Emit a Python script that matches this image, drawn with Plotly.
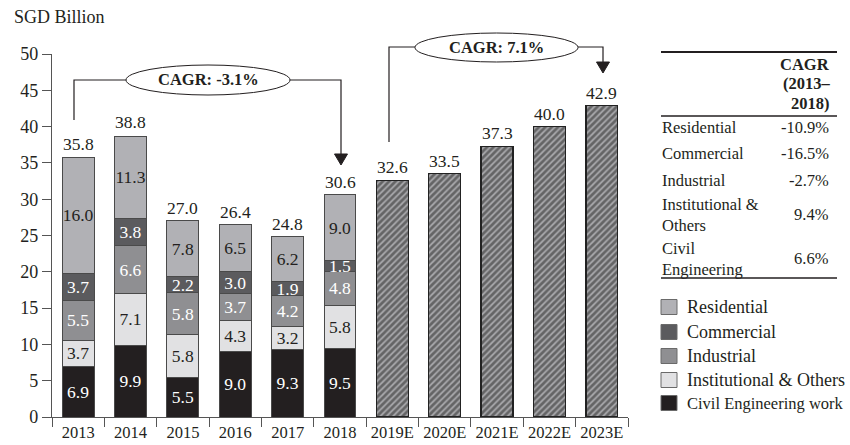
import plotly.graph_objects as go

# ---- data -------------------------------------------------------------
hist_years = ["2013", "2014", "2015", "2016", "2017", "2018"]
fcst_years = ["2019E", "2020E", "2021E", "2022E", "2023E"]

civil = [6.9, 9.9, 5.5, 9.0, 9.3, 9.5]
institutional = [3.7, 7.1, 5.8, 4.3, 3.2, 5.8]
industrial = [5.5, 6.6, 5.8, 3.7, 4.2, 4.8]
commercial = [3.7, 3.8, 2.2, 3.0, 1.9, 1.5]
residential = [16.0, 11.3, 7.8, 6.5, 6.2, 9.0]

hist_totals = [35.8, 38.8, 27.0, 26.4, 24.8, 30.6]
fcst_totals = [32.6, 33.5, 37.3, 40.0, 42.9]

cagr_hist = "CAGR: -3.1%"
cagr_fcst = "CAGR: 7.1%"

table_rows = [
    (["Residential"], "-10.9%"),
    (["Commercial"], "-16.5%"),
    (["Industrial"], "-2.7%"),
    (["Institutional &", "Others"], "9.4%"),
    (["Civil", "Engineering"], "6.6%"),
]

# ---- styling ----------------------------------------------------------
FONT = "Liberation Serif"
INK = "#231f20"
AXIS = "#555555"
EDGE = "#4a4a4a"

segments = [
    ("Civil Engineering work", civil, "#231f20", "white"),
    ("Institutional & Others", institutional, "#e1e1e3", INK),
    ("Industrial", industrial, "#8f8f92", "white"),
    ("Commercial", commercial, "#5b5b5e", "white"),
    ("Residential", residential, "#b1b1b5", INK),
]

all_years = hist_years + fcst_years
all_totals = hist_totals + fcst_totals

# plot-area geometry in pixels (850 x 445 canvas)
L, R, T, B = 52, 628, 54, 417
W, H = R - L, B - T


def px(x):
    return (x - L) / W


def py(y):
    return (B - y) / H


fig = go.Figure()

for name, vals, color, tcolor in segments:
    fig.add_trace(go.Bar(
        x=hist_years, y=vals, name=name,
        marker=dict(color=color, line=dict(color=EDGE, width=1)),
        text=[f"{v:.1f}" for v in vals],
        textposition="inside", insidetextanchor="middle",
        textangle=0, constraintext="none",
        textfont=dict(family=FONT, size=17.5, color=tcolor),
        showlegend=False, hoverinfo="skip",
    ))

fig.add_trace(go.Bar(
    x=fcst_years, y=fcst_totals, name="Forecast",
    marker=dict(
        color="#9c9c9f",
        line=dict(color="#222222", width=1.3),
        pattern=dict(shape="/", fgcolor="#222222", bgcolor="#a6a6a9",
                     size=4.5, solidity=0.6),
    ),
    showlegend=False, hoverinfo="skip",
))

annotations = []
shapes = []

# total labels above each bar (x given as category index)
for i, tot in enumerate(all_totals):
    annotations.append(dict(
        x=i, y=tot, xref="x", yref="y", text=f"{tot:.1f}",
        showarrow=False, yanchor="bottom", yshift=1,
        font=dict(family=FONT, size=17.5, color=INK),
    ))

# CAGR connectors, ellipses and arrowheads
def P(x, y):
    return f"{px(x):.5f},{py(y):.5f}"


conn = (f"M {P(74,120)} L {P(74,80)} L {P(126,80)} "
        f"M {P(290,80)} L {P(341,80)} L {P(341,156)} "
        f"M {P(389,142)} L {P(389,47)} L {P(415,47)} "
        f"M {P(578,47)} L {P(603,47)} L {P(603,64)}")
shapes.append(dict(type="path", path=conn, xref="paper", yref="paper",
                   line=dict(color=INK, width=1.2)))

for tip_x, tip_y in [(341, 165), (603, 73)]:
    tri = f"M {P(tip_x-6.5, tip_y-11)} L {P(tip_x+6.5, tip_y-11)} L {P(tip_x, tip_y)} Z"
    shapes.append(dict(type="path", path=tri, xref="paper", yref="paper",
                       fillcolor=INK, line=dict(color=INK, width=1)))

for (x0, x1, y0, y1, label) in [(126, 290, 65, 95, cagr_hist),
                                (415, 578, 33, 62, cagr_fcst)]:
    shapes.append(dict(type="circle", xref="paper", yref="paper",
                       x0=px(x0), x1=px(x1), y0=py(y1), y1=py(y0),
                       fillcolor="white", line=dict(color=INK, width=1)))
    annotations.append(dict(
        x=px((x0 + x1) / 2), y=py((y0 + y1) / 2), xref="paper", yref="paper",
        text=f"<b>{label}</b>", showarrow=False,
        xanchor="center", yanchor="middle",
        font=dict(family=FONT, size=16.5, color=INK),
    ))

# unit title
annotations.append(dict(
    x=px(12), y=py(17), xref="paper", yref="paper", text="SGD Billion",
    showarrow=False, xanchor="left", yanchor="middle",
    font=dict(family=FONT, size=18, color=INK),
))

# CAGR table
TL, TR_ = 661, 837
for y, w in [(52, 2.2), (116, 1.6), (278, 1.6)]:
    shapes.append(dict(type="line", xref="paper", yref="paper",
                       x0=px(TL), x1=px(TR_), y0=py(y), y1=py(y),
                       line=dict(color=INK, width=w)))

for y, txt in [(65, "CAGR"), (84, "(2013–"), (103, "2018)")]:
    annotations.append(dict(
        x=px(832), y=py(y), xref="paper", yref="paper", text=f"<b>{txt}</b>",
        showarrow=False, xanchor="right", yanchor="middle",
        font=dict(family=FONT, size=16.5, color=INK),
    ))

row_centers = [128, 153, 180, 214.5, 258.5]
for (lines, val), yc in zip(table_rows, row_centers):
    annotations.append(dict(
        x=px(TL), y=py(yc), xref="paper", yref="paper",
        text="<br>".join(lines), align="left",
        showarrow=False, xanchor="left", yanchor="middle",
        borderpad=0,
        font=dict(family=FONT, size=16.5, color=INK),
    ))
    annotations.append(dict(
        x=px(831), y=py(yc), xref="paper", yref="paper", text=val,
        showarrow=False, xanchor="right", yanchor="middle",
        font=dict(family=FONT, size=16.5, color=INK),
    ))

# legend swatches (top of stack listed first)
legend_y = [307, 332, 356, 380, 403]
for (name, _, color, _t), yc in zip(segments[::-1], legend_y):
    shapes.append(dict(type="rect", xref="paper", yref="paper",
                       x0=px(661), x1=px(677), y0=py(yc + 7.5), y1=py(yc - 7.5),
                       fillcolor=color, line=dict(color="#6a6a6a", width=1)))
    size = 16.5 if name.startswith("Civil") else 18
    annotations.append(dict(
        x=px(685), y=py(yc), xref="paper", yref="paper", text=name,
        showarrow=False, xanchor="left", yanchor="middle",
        font=dict(family=FONT, size=size, color=INK),
    ))

fig.update_layout(
    width=850, height=445,
    margin=dict(l=L, r=850 - R, t=T, b=445 - B),
    paper_bgcolor="white", plot_bgcolor="white",
    barmode="stack", bargap=0.39,
    font=dict(family=FONT, color=INK),
    shapes=shapes, annotations=annotations,
    xaxis=dict(
        type="category", categoryorder="array",
        categoryarray=all_years, range=[-0.5, len(all_years) - 0.5],
        tickson="boundaries", ticks="outside", ticklen=9,
        tickcolor=AXIS, tickwidth=1.2, automargin=False,
        showline=True, linecolor=AXIS, linewidth=1.2,
        showgrid=False, tickfont=dict(family=FONT, size=16.5, color=INK),
    ),
    yaxis=dict(
        range=[0, 50], dtick=5, ticks="outside", ticklen=9,
        tickcolor=AXIS, tickwidth=1.2, automargin=False,
        showline=True, linecolor=AXIS, linewidth=1.2,
        showgrid=False, zeroline=False,
        tickfont=dict(family=FONT, size=18, color=INK),
    ),
)

fig.write_html("out.html")
